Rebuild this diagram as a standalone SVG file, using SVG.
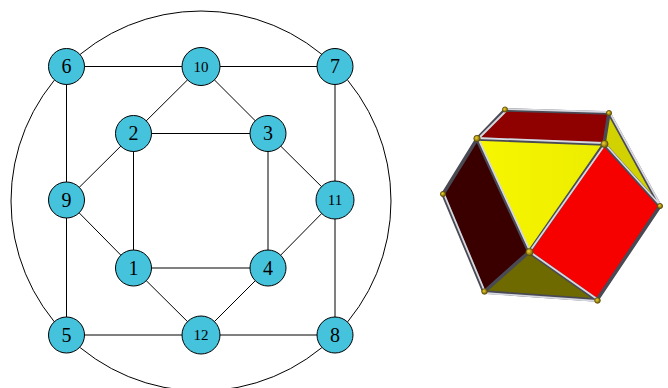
<svg xmlns="http://www.w3.org/2000/svg" width="668" height="388" viewBox="0 0 668 388">
<style>
.e{stroke:#000;stroke-width:1;fill:none}
.n circle{fill:#45c3dc;stroke:#000;stroke-width:1}
.n text{font-family:"Liberation Serif","Times New Roman",serif;text-anchor:middle;fill:#000}
.b{font-size:20px}.s{font-size:15px}
.td{stroke:#4a4a55;stroke-width:3.500;stroke-linecap:round;fill:none}
.tl{stroke:#d8d8e0;stroke-width:1.800;stroke-linecap:round;fill:none}
.v{fill:url(#vg);stroke:#5a4a00;stroke-width:.8}
</style>
<defs>
<linearGradient id="yg" x1="0" y1="0" x2="1" y2="0"><stop offset="0" stop-color="#f7f700"/><stop offset="1" stop-color="#ecec00"/></linearGradient>
<radialGradient id="vg" cx=".4" cy=".4" r=".7"><stop offset="0" stop-color="#f0d030"/><stop offset="1" stop-color="#5a4a00"/></radialGradient>
</defs>
<rect width="668" height="388" fill="#fff"/>
<g id="connectors">
<circle class="e" cx="201" cy="201" r="190"/>
<path class="e" d="M66.500 66.500H335M66.500 66.500V335M335 66.500V335M66.500 335H335M133.500 133.500H268M133.500 133.500V268M268 133.500V268M133.500 268H268M201 66.500L133.500 133.500M201 66.500L268 133.500M66.500 200L133.500 133.500M66.500 200L133.500 268M335 200L268 133.500M335 200L268 268M201 335L133.500 268M201 335L268 268"/>
</g>
<g id="n6" class="n"><circle cx="66.500" cy="66.500" r="18"/><text class="b" x="66.500" y="73">6</text></g>
<g id="n10" class="n"><circle cx="201" cy="66.500" r="19"/><text class="s" x="201" y="71.500">10</text></g>
<g id="n7" class="n"><circle cx="335" cy="66.500" r="18"/><text class="b" x="335" y="73">7</text></g>
<g id="n2" class="n"><circle cx="133.500" cy="133.500" r="18"/><text class="b" x="133.500" y="140">2</text></g>
<g id="n3" class="n"><circle cx="268" cy="133.500" r="18"/><text class="b" x="268" y="140">3</text></g>
<g id="n9" class="n"><circle cx="66.500" cy="200" r="18"/><text class="b" x="66.500" y="206.500">9</text></g>
<g id="n11" class="n"><circle cx="335" cy="200" r="19"/><text class="s" x="335" y="205">11</text></g>
<g id="n1" class="n"><circle cx="133.500" cy="268" r="18"/><text class="b" x="133.500" y="274.500">1</text></g>
<g id="n4" class="n"><circle cx="268" cy="268" r="18"/><text class="b" x="268" y="274.500">4</text></g>
<g id="n5" class="n"><circle cx="66.500" cy="335" r="18"/><text class="b" x="66.500" y="341.500">5</text></g>
<g id="n12" class="n"><circle cx="201" cy="335" r="19"/><text class="s" x="201" y="340">12</text></g>
<g id="n8" class="n"><circle cx="335" cy="335" r="18"/><text class="b" x="335" y="341.500">8</text></g>
<g id="polyhedron">
<polygon points="505,110 609,113 604,144 477,139" fill="#8f0000"/>
<polygon points="609,113 660,206 604,144" fill="#d2d200"/>
<polygon points="477,139 604,144 529,252" fill="url(#yg)"/>
<polygon points="604,144 660,206 597,300 529,252" fill="#f70000"/>
<polygon points="477,139 529,252 484,292 443,194" fill="#3a0000"/>
<polygon points="529,252 597,300 484,292" fill="#6e6a00"/>
<path class="td" d="M505,110L477,139M609,113L604,144M477,139L443,194M529,252L484,292M604,144L529,252M660,206L597,300M505,110L609,113M477,139L604,144M484,292L597,300M609,113L660,206M477,139L529,252M604,144L660,206M529,252L597,300M443,194L484,292"/>
<path class="tl" d="M505,109L609,112M477,138L604,143M484,293L597,301M610,113L661,206M478,138L530,251M605,144L660,205M530,252L597,299M444,194L485,292M506,111L478,139M604,146L530,251"/>
<circle class="v" cx="505" cy="109.500" r="2.600"/>
<circle class="v" cx="609" cy="113" r="2.600"/>
<circle class="v" cx="477" cy="138.500" r="3.200"/>
<circle class="v" cx="604.500" cy="144" r="3.600"/>
<circle class="v" cx="443" cy="194" r="2.600"/>
<circle class="v" cx="660" cy="206" r="2.600"/>
<circle class="v" cx="529.500" cy="252" r="3.600"/>
<circle class="v" cx="484.500" cy="291.500" r="2.800"/>
<circle class="v" cx="597.500" cy="300.500" r="2.800"/>
</g>
</svg>
